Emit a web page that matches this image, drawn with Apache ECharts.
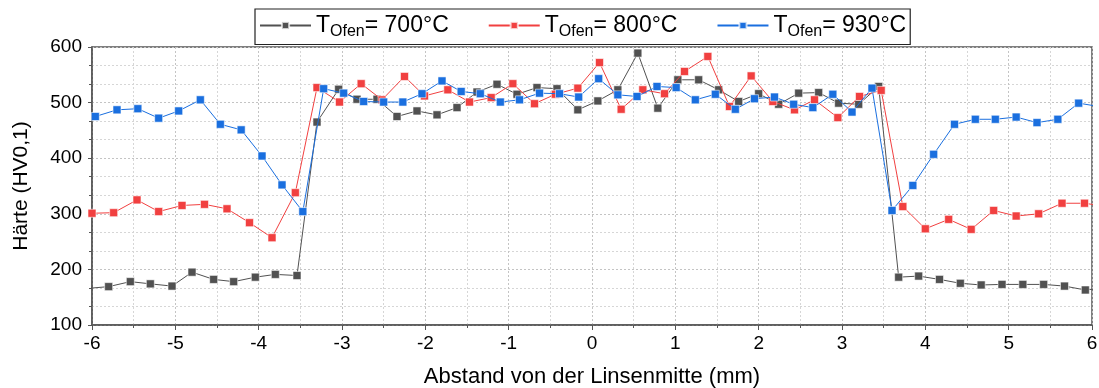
<!DOCTYPE html>
<html>
<head>
<meta charset="utf-8">
<script src="https://cdn.jsdelivr.net/npm/echarts@6/dist/echarts.min.js"></script>
<style>
html,body{margin:0;padding:0;background:#fff;}
#chart{width:1099px;height:388px;}
</style>
</head>
<body>
<div id="chart"></div>
<script>
// ---- data ----
const seriesNames = ['T_Ofen= 700°C', 'T_Ofen= 800°C', 'T_Ofen= 930°C'];
const tempLabels = ['700', '800', '930'];

const x700 = [-6.04,-5.80,-5.54,-5.30,-5.04,-4.80,-4.54,-4.30,-4.04,-3.80,-3.54,-3.30,-3.04,-2.82,-2.58,-2.34,-2.10,-1.86,-1.62,-1.38,-1.14,-0.90,-0.66,-0.42,-0.17,0.07,0.31,0.55,0.79,1.03,1.28,1.52,1.76,2.00,2.24,2.48,2.72,2.96,3.20,3.44,3.68,3.92,4.17,4.42,4.67,4.92,5.17,5.42,5.67,5.92,6.17];
const y700 = [166,169,178,174,170,195,182,178,186,191,189,465,524,506,506,475,485,478,491,519,533,515,527,525,487,503,523,589,490,541,541,523,502,516,497,517,518,499,497,529,186,188,182,175,172,173,173,173,170,163,167];

const x800 = [-6.00,-5.74,-5.46,-5.20,-4.92,-4.65,-4.38,-4.11,-3.84,-3.56,-3.30,-3.03,-2.77,-2.52,-2.25,-2.01,-1.73,-1.47,-1.21,-0.95,-0.69,-0.44,-0.17,0.09,0.35,0.61,0.87,1.11,1.39,1.65,1.91,2.17,2.43,2.67,2.95,3.21,3.47,3.73,4.00,4.28,4.55,4.82,5.09,5.36,5.64,5.91,6.18];
const y800 = [301,302,325,304,315,317,309,284,257,338,527,501,534,505,547,512,523,501,509,534,498,515,526,572,488,523,516,556,583,493,548,502,487,505,473,511,522,313,273,290,272,306,296,300,319,319,313];

const x930 = [-5.96,-5.70,-5.45,-5.20,-4.96,-4.70,-4.46,-4.21,-3.96,-3.72,-3.47,-3.22,-2.98,-2.74,-2.50,-2.27,-2.04,-1.80,-1.57,-1.34,-1.10,-0.87,-0.63,-0.39,-0.16,0.08,0.31,0.54,0.78,1.01,1.24,1.48,1.72,1.95,2.19,2.42,2.65,2.89,3.12,3.36,3.60,3.85,4.10,4.35,4.60,4.84,5.09,5.34,5.59,5.84,6.08];
const y930 = [475,487,489,472,485,505,461,451,404,352,304,525,517,502,501,501,516,539,520,516,501,505,517,516,510,543,514,511,529,527,505,515,488,507,510,497,491,515,483,526,306,351,407,461,470,470,474,464,470,499,493];

const colors = ['#515151', '#F14040', '#1A6FDF'];
const FONT = "'Liberation Sans', Arial, sans-serif";

function pairs(xs, ys){ return xs.map((x,i)=>[x, ys[i]]); }
const allX = [x700, x800, x930];
const allY = [y700, y800, y930];

const chart = echarts.init(document.getElementById('chart'));
const option = {
  animation: false,
  backgroundColor: '#fff',
  grid: { left: 92, right: 7, top: 47, bottom: 63, outerBoundsMode: 'none', containLabel: false, show: true, borderColor: '#555', borderWidth: 1.5, backgroundColor: 'transparent' },
  legend: {
    left: 255, top: 9,
    width: 657,
    padding: [5, 4, 5, 4],
    borderColor: '#222', borderWidth: 1.2, backgroundColor: '#fff',
    itemWidth: 51, itemHeight: 9, itemGap: 39,
    data: seriesNames,
    formatter: function(name){
      const i = seriesNames.indexOf(name);
      return '{t|T}{s|Ofen}{t|= ' + tempLabels[i] + '°C}';
    },
    textStyle: {
      fontFamily: FONT, color: '#000',
      rich: {
        t: { fontSize: 23, fontFamily: FONT, color: '#000', lineHeight: 28, verticalAlign: 'middle' },
        s: { fontSize: 16, fontFamily: FONT, color: '#000', lineHeight: 14, verticalAlign: 'bottom' }
      }
    }
  },
  xAxis: {
    type: 'value', min: -6, max: 6, interval: 1,
    name: 'Abstand von der Linsenmitte (mm)', nameLocation: 'middle', nameGap: 41,
    nameTextStyle: { fontFamily: FONT, fontSize: 22, color: '#000' },
    axisLine: { show: true, onZero: false, lineStyle: { color: '#555', width: 1.5 } },
    axisTick: { show: true, inside: false, length: 5, lineStyle: { color: '#555', width: 1 } },
    minorTick: { show: true, splitNumber: 2, length: 3, lineStyle: { color: '#555' } },
    axisLabel: { fontFamily: FONT, fontSize: 19, color: '#000', margin: 9 },
    splitLine: { show: true, lineStyle: { color: '#c4c4c4', type: [2, 2], width: 1 } },
    minorSplitLine: { show: true, lineStyle: { color: '#d6d6d6', type: [2, 2], width: 1 } }
  },
  yAxis: {
    type: 'value', min: 100, max: 600, interval: 100,
    name: 'Härte (HV0,1)', nameLocation: 'middle', nameGap: 60, nameRotate: 90,
    nameTextStyle: { fontFamily: FONT, fontSize: 21, color: '#000' },
    axisLine: { show: true, onZero: false, lineStyle: { color: '#555', width: 1.5 } },
    axisTick: { show: true, inside: false, length: 4, lineStyle: { color: '#555', width: 1 } },
    minorTick: { show: true, splitNumber: 3, length: 3, lineStyle: { color: '#555' } },
    axisLabel: { fontFamily: FONT, fontSize: 19, color: '#000', margin: 10 },
    splitLine: { show: true, lineStyle: { color: '#c4c4c4', type: [2, 2], width: 1 } },
    minorSplitLine: { show: true, lineStyle: { color: '#d6d6d6', type: [2, 2], width: 1 } }
  },
  series: seriesNames.map((n, i) => ({
    name: n,
    type: 'line',
    data: pairs(allX[i], allY[i]),
    symbol: 'rect',
    symbolSize: 8,
    showAllSymbol: true,
    clip: true,
    color: colors[i],
    lineStyle: { color: colors[i], width: 1 },
    itemStyle: { color: colors[i], borderColor: 'rgba(255,255,255,0.7)', borderWidth: 0.8 },
    z: 3 + i
  }))
};
chart.setOption(option);
</script>
</body>
</html>
